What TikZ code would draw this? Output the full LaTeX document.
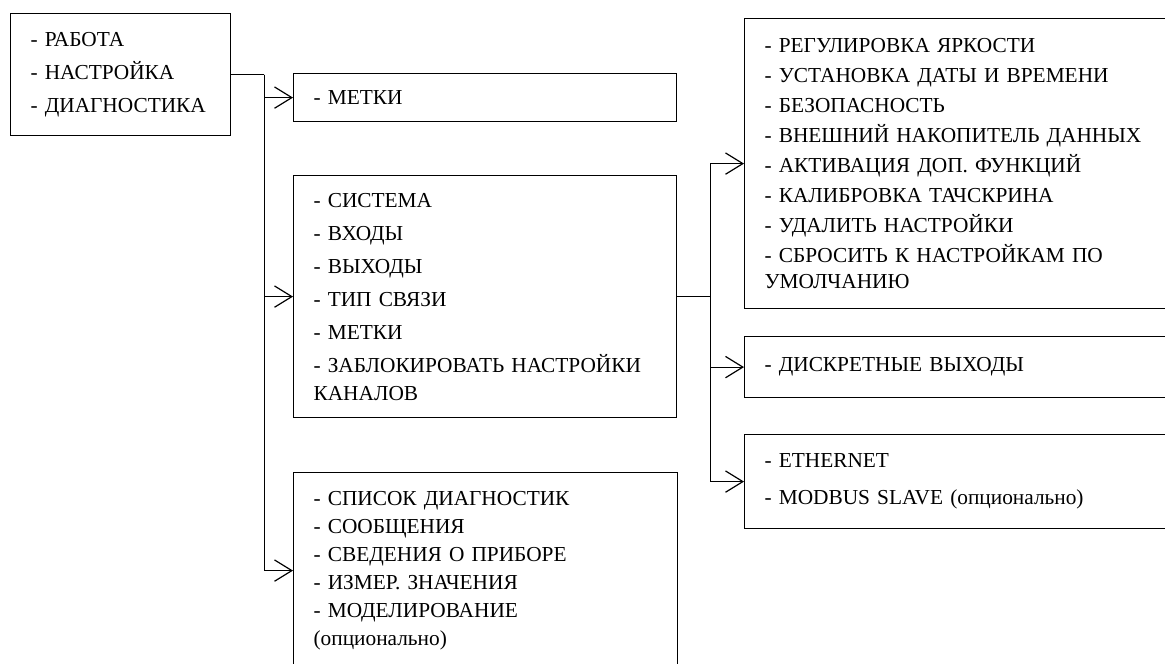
\documentclass[tikz,border=0pt]{standalone}
\usepackage{fontspec}
\setmainfont{Liberation Serif}
\usetikzlibrary{arrows.meta}

\begin{document}
\begin{tikzpicture}
  [x=0.75pt, y=-0.75pt, line width=0.9pt,
   every node/.style={font=\fontsize{16}{19}\selectfont},
   box/.style 2 args={draw, anchor=north west, align=left, inner xsep=15pt,
                      inner ysep=0pt, text width=#1, minimum height=#2},
   link/.style={-{Straight Barb[length=13pt,width=16pt]}}]
  \path[use as bounding box, clip] (0,0) rectangle (1165,664);
  % main menu
  \node[box={135pt}{91.5pt}] (root) at (10,13)
    {- РАБОТА\\[5.75pt] - НАСТРОЙКА\\[5.75pt] - ДИАГНОСТИКА};
  % second level
  \node[box={257.25pt}{36pt}] (marks) at (293,73) {- МЕТКИ};
  \node[box={257.25pt}{181.5pt}] (sys) at (293,175)
    {- СИСТЕМА\\[5.75pt] - ВХОДЫ\\[5.75pt] - ВЫХОДЫ\\[5.75pt] - ТИП СВЯЗИ\\[5.75pt]
     - МЕТКИ\\[5.75pt] - ЗАБЛОКИРОВАТЬ НАСТРОЙКИ\\[2pt] КАНАЛОВ};
  \node[box={258pt}{147pt}] (diag) at (293,472)
    {- СПИСОК ДИАГНОСТИК\\[2pt] - СООБЩЕНИЯ\\[2pt] - СВЕДЕНИЯ О ПРИБОРЕ\\[2pt]
     - ИЗМЕР. ЗНАЧЕНИЯ\\[2pt] - МОДЕЛИРОВАНИЕ\\[2pt] (опционально)};
  % third level
  \node[box={330pt}{217.5pt}] (setup) at (744,18)
    {- РЕГУЛИРОВКА ЯРКОСТИ\\[3.5pt] - УСТАНОВКА ДАТЫ И ВРЕМЕНИ\\[3.5pt]
     - БЕЗОПАСНОСТЬ\\[3.5pt] - ВНЕШНИЙ НАКОПИТЕЛЬ ДАННЫХ\\[3.5pt]
     - АКТИВАЦИЯ ДОП. ФУНКЦИЙ\\[3.5pt] - КАЛИБРОВКА ТАЧСКРИНА\\[3.5pt]
     - УДАЛИТЬ НАСТРОЙКИ\\[3.5pt] - СБРОСИТЬ К НАСТРОЙКАМ ПО\\ УМОЛЧАНИЮ};
  \node[box={330pt}{45.75pt}] (disc) at (744,336) {- ДИСКРЕТНЫЕ ВЫХОДЫ};
  \node[box={330pt}{70.5pt}] (eth) at (744,434)
    {- ETHERNET\\[8.75pt] - MODBUS SLAVE (опционально)};
  % connectors
  \draw (root.east) -- ++(33,0) coordinate (fork);
  \draw[link] (fork) |- (marks.west);
  \draw[link] (fork) |- (sys.west);
  \draw[link] (fork) |- (diag.west);
  \draw (sys.east) -- ++(33,0) coordinate (fork2);
  \draw[link] (fork2) |- (setup.west);
  \draw[link] (fork2) |- (disc.west);
  \draw[link] (fork2) |- (eth.west);
\end{tikzpicture}
\end{document}
